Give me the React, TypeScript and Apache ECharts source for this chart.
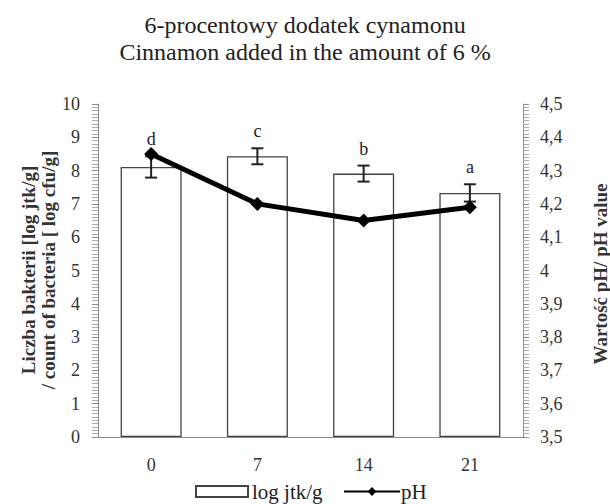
import React, { useEffect, useRef } from "react";
import * as echarts from "echarts";

const categories = ["0", "7", "14", "21"];
const bacteria = [8.11, 8.43, 7.91, 7.33];
const bacteriaErr = [0.32, 0.24, 0.24, 0.26];
const letters = ["d", "c", "b", "a"];
const ph = [4.35, 4.2, 4.15, 4.19];
const titleLines = ["6-procentowy dodatek cynamonu", "Cinnamon added in the amount of 6 %"];

const FONT = "Liberation Serif";

export default function App() {
  const ref = useRef<HTMLDivElement>(null);
  useEffect(() => {
    if (!ref.current) return;
    const chart = echarts.init(ref.current, null, { renderer: "svg" });
    const errData = categories.map((_, i) => [i, bacteria[i] - bacteriaErr[i], bacteria[i] + bacteriaErr[i], letters[i]]);
    chart.setOption({
      animation: false,
      textStyle: { fontFamily: FONT },
      title: {
        text: titleLines.join("\n"),
        left: "center",
        top: 11,
        padding: 0,
        textStyle: { fontFamily: FONT, fontSize: 24, fontWeight: "normal", color: "#222", lineHeight: 27 },
      },
      grid: { left: 98, right: 87, top: 104, bottom: 67 },
      legend: [
        {
          data: [{ name: "log jtk/g", icon: "rect" }],
          left: 195,
          top: 481,
          padding: 0,
          itemWidth: 52,
          itemHeight: 11,
          textStyle: { fontFamily: FONT, fontSize: 21, color: "#222", padding: [0, 0, 0, -1] },
        },
        {
          data: [{ name: "pH" }],
          left: 343,
          top: 481,
          padding: 0,
          itemWidth: 56,
          itemHeight: 11,
          textStyle: { fontFamily: FONT, fontSize: 21, color: "#222", padding: [0, 0, 0, -4] },
        },
      ],
      xAxis: {
        type: "category",
        data: categories,
        axisLine: { lineStyle: { color: "#8a8a8a", width: 1 } },
        axisTick: { show: false },
        axisLabel: { fontFamily: FONT, fontSize: 18, color: "#333", margin: 19 },
      },
      yAxis: [
        {
          type: "value",
          min: 0,
          max: 10,
          interval: 1,
          splitLine: { show: false },
          axisLine: { show: true, lineStyle: { color: "#8a8a8a" } },
          axisTick: { show: true, length: 6, lineStyle: { color: "#8a8a8a" } },
          minorTick: { show: true, splitNumber: 10, length: 6, lineStyle: { color: "#aaaaaa" } },
          axisLabel: { fontFamily: FONT, fontSize: 18, color: "#333", margin: 18 },
        },
        {
          type: "value",
          min: 3.5,
          max: 4.5,
          interval: 0.1,
          position: "right",
          splitLine: { show: false },
          axisLine: { show: true, lineStyle: { color: "#8a8a8a" } },
          axisTick: { show: true, length: 6, lineStyle: { color: "#8a8a8a" } },
          minorTick: { show: true, splitNumber: 10, length: 6, lineStyle: { color: "#aaaaaa" } },
          axisLabel: {
            fontFamily: FONT,
            fontSize: 18,
            color: "#333",
            margin: 17,
            formatter: (v: number) => String(Math.round(v * 10) / 10).replace(".", ","),
          },
        },
      ],
      graphic: [
        {
          type: "text",
          x: 38,
          y: 270,
          rotation: Math.PI / 2,
          style: {
            text: "Liczba bakterii [log jtk/g]\n/ count of bacteria [ log cfu/g]",
            fontFamily: FONT,
            fontSize: 19,
            fontWeight: "bold",
            fill: "#333",
            align: "center",
            verticalAlign: "middle",
            lineHeight: 20,
          },
        },
        {
          type: "text",
          x: 600,
          y: 274,
          rotation: Math.PI / 2,
          style: {
            text: "Wartość pH/ pH value",
            fontFamily: FONT,
            fontSize: 19,
            fontWeight: "bold",
            fill: "#333",
            align: "center",
            verticalAlign: "middle",
          },
        },
      ],
      series: [
        {
          name: "log jtk/g",
          type: "bar",
          data: bacteria,
          barWidth: 61,
          itemStyle: { color: "#ffffff", borderColor: "#444", borderWidth: 1.3 },
          z: 2,
        },
        {
          type: "custom",
          name: "err",
          xAxisIndex: 0,
          yAxisIndex: 0,
          data: errData,
          encode: { x: 0, y: [1, 2] },
          z: 3,
          renderItem: (params: any, api: any) => {
            const x = api.value(0);
            const lo = api.coord([x, api.value(1)]);
            const hi = api.coord([x, api.value(2)]);
            const hw = 6;
            const st = { stroke: "#222", lineWidth: 2 };
            return {
              type: "group",
              children: [
                { type: "line", shape: { x1: lo[0], y1: lo[1], x2: hi[0], y2: hi[1] }, style: st },
                { type: "line", shape: { x1: lo[0] - hw, y1: lo[1], x2: lo[0] + hw, y2: lo[1] }, style: st },
                { type: "line", shape: { x1: hi[0] - hw, y1: hi[1], x2: hi[0] + hw, y2: hi[1] }, style: st },
                {
                  type: "text",
                  x: hi[0],
                  y: hi[1] - 17,
                  style: {
                    text: letters[params.dataIndex],
                    fontFamily: FONT,
                    fontSize: 18,
                    fill: "#222",
                    align: "center",
                    verticalAlign: "middle",
                  },
                },
              ],
            };
          },
        },
        {
          name: "pH",
          type: "line",
          yAxisIndex: 1,
          data: ph,
          symbol: "diamond",
          symbolSize: 14,
          itemStyle: { color: "#000" },
          lineStyle: { color: "#000", width: 5 },
          z: 5,
        },
      ],
    });
    return () => chart.dispose();
  }, []);
  return <div ref={ref} style={{ width: 610, height: 504, position: "absolute", left: 0, top: 0 }} />;
}
